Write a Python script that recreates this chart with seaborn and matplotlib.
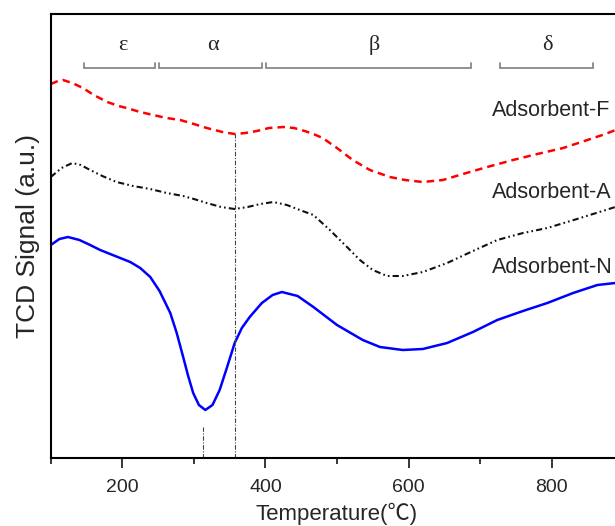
import numpy as np
import pandas as pd
import matplotlib
matplotlib.use("Agg")
import matplotlib.pyplot as plt
import seaborn as sns

# ---- data (arbitrary TCD units) ----
temp_f = [100, 110, 117, 130, 145, 160, 179, 195, 206, 225, 243, 262, 281, 300,
          318, 340, 357, 372, 388, 405, 425, 440, 455, 467, 480, 500, 522, 546,
          574, 595, 620, 648, 676, 710, 746, 780, 816, 850, 875, 900]
sig_f = [374, 377, 378, 375, 370, 363, 356, 352, 350, 346, 343, 340, 338, 334,
         330, 326, 324, 325, 327, 330, 331, 330, 327, 324, 320, 310, 298, 288,
         281, 278, 276, 278, 284, 291, 298, 304, 310, 318, 324, 331]

temp_a = [100, 115, 130, 142, 155, 172, 192, 215, 239, 262, 285, 300, 318, 338,
          357, 375, 393, 411, 430, 448, 467, 490, 514, 532, 550, 570, 592, 620,
          654, 690, 724, 760, 794, 840, 889, 900]
sig_a = [281, 290, 295, 293, 288, 282, 276, 272, 269, 265, 262, 259, 255, 251,
         249, 251, 254, 256, 253, 248, 243, 228, 211, 198, 188, 182, 182, 186,
         195, 207, 218, 225, 230, 240, 251, 253]

temp_n = [100, 112, 124, 140, 155, 169, 190, 211, 225, 239, 252, 267, 276, 285,
          292, 299, 307, 316, 326, 336, 346, 357, 367, 378, 395, 410, 423, 445,
          467, 500, 536, 560, 592, 620, 654, 690, 724, 760, 794, 830, 864, 889, 900]
sig_n = [213, 219, 221, 218, 213, 208, 202, 196, 190, 181, 167, 145, 125, 101,
         82, 65, 53, 48, 53, 68, 90, 115, 130, 141, 155, 163, 166, 162,
         151, 133, 118, 111, 108, 109, 115, 126, 138, 147, 155, 165, 173, 175, 176]

series_names = ["Adsorbent-F", "Adsorbent-A", "Adsorbent-N"]
label_pos_t = [717, 717, 717]
label_pos_y = [348, 266, 191]

region_names = ["ε", "α", "β", "δ"]
region_start = [146, 251, 401, 728]
region_end = [246, 395, 688, 858]
region_label_t = [200, 327, 552, 794]

marker_temps = [357, 313]
marker_tops = [324, 31]

xticks_major = [200, 400, 600, 800]
xticks_minor = [100, 300, 500, 700, 900]

# ---- figure ----
sns.set_style("ticks")
plt.rcParams["font.family"] = ["Liberation Sans", "DejaVu Sans"]

fig = plt.figure(figsize=(6.15, 5.26), dpi=100)
ax = fig.add_axes([0.0826, 0.1293, 0.9307, 0.845])

df_f = pd.DataFrame({"T": temp_f, "S": sig_f})
df_a = pd.DataFrame({"T": temp_a, "S": sig_a})
df_n = pd.DataFrame({"T": temp_n, "S": sig_n})

sns.lineplot(data=df_f, x="T", y="S", ax=ax, color="#ff0000", lw=1.8,
             linestyle=(0, (3, 2)))
sns.lineplot(data=df_a, x="T", y="S", ax=ax, color="#111111", lw=1.5,
             linestyle=(0, (3, 1.5, 0.8, 1.5, 0.8, 1.5)))
sns.lineplot(data=df_n, x="T", y="S", ax=ax, color="#0000ff", lw=1.8)

# vertical marker lines
for t, top in zip(marker_temps, marker_tops):
    ax.plot([t, t], [0, top], color="#444444", lw=0.8,
            linestyle=(0, (4, 1.5, 1, 1.5)))

# region brackets
for name, s, e, lt in zip(region_names, region_start, region_end, region_label_t):
    ax.plot([s, s, e, e], [395, 390, 390, 395], color="#888888", lw=1.3,
            solid_joinstyle="miter")
    ax.text(lt, 413, name, ha="center", va="center", fontsize=16,
            family=["Liberation Serif", "DejaVu Serif"])

for name, t, y in zip(series_names, label_pos_t, label_pos_y):
    ax.text(t, y, name, ha="left", va="center", fontsize=15.5)

ax.set_xlim(100, 900)
ax.set_ylim(0, 444.5)
ax.set_xticks(xticks_major)
ax.set_xticks(xticks_minor, minor=True)
ax.set_yticks([])
ax.tick_params(axis="x", which="major", direction="out", length=7, width=1.3,
               labelsize=14, pad=8)
ax.tick_params(axis="x", which="minor", direction="out", length=4, width=1.3)
for sp in ax.spines.values():
    sp.set_linewidth(1.5)
    sp.set_color("black")

ax.set_xlabel("Temperature(℃)", fontsize=16, labelpad=5,
              family=["Liberation Sans", "Noto Sans CJK SC", "DejaVu Sans"])
ax.set_ylabel("TCD Signal (a.u.)", fontsize=19, labelpad=8)

fig.savefig("out.png", dpi=100)
